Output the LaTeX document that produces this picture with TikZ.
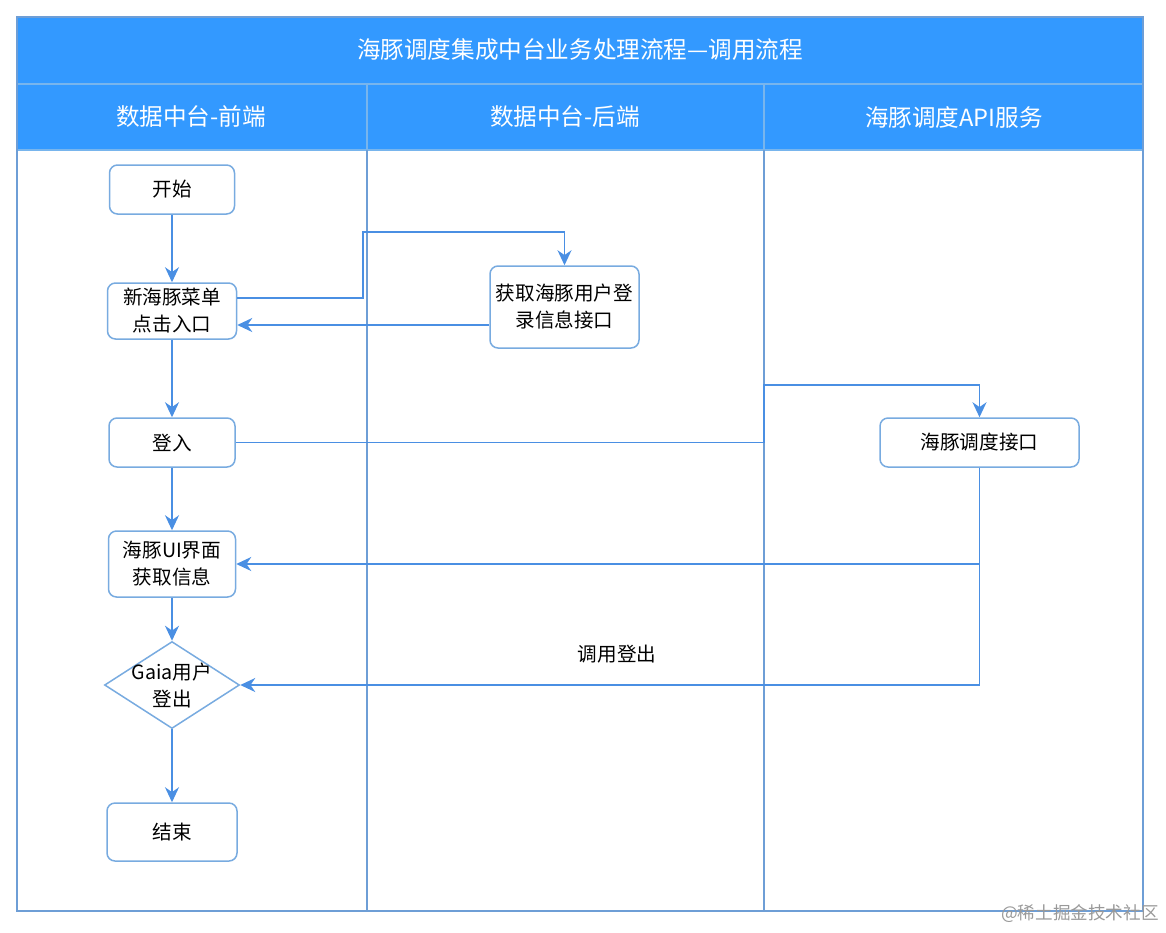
\documentclass[tikz,border=0pt]{standalone}
\usepackage{fontspec}
\setmainfont{Noto Sans CJK SC}
\usetikzlibrary{arrows.meta,shapes.geometric,positioning}
\definecolor{CheadA}{rgb}{0.2,0.6,1}
\definecolor{CheadL}{rgb}{0.47,0.71,0.93}
\definecolor{ClaneA}{rgb}{0.43,0.62,0.84}
\definecolor{CflowA}{rgb}{0.29,0.56,0.89}
\definecolor{CboxA}{rgb}{0.47,0.67,0.88}
\tikzset{
stepbox/.style={draw=CboxA, line width=0.75pt, rounded corners=4pt, fill=white, align=center, inner sep=0pt, font=\fontsize{9.8}{13.5}\selectfont},
decbox/.style={diamond, draw=CboxA, line width=0.75pt, fill=white, inner sep=0pt, minimum width=67.5pt, minimum height=43.5pt},
flow/.style={draw=CflowA, line width=0.8pt, -{Stealth[length=7.5pt,width=7pt,inset=2.4pt]}},
headtext/.style={text=white, font=\fontsize{11.8}{14}\selectfont},
}

\begin{document}
\begin{tikzpicture}[x=0.5pt,y=-0.5pt]
\useasboundingbox (0,0) rectangle (1166,932);

%% Lanes
\fill[CheadA] (17,17) rectangle (1143,150);
\draw[CheadL, line width=0.75pt] (17,84) -- (1143,84);
\draw[CheadL, line width=0.75pt] (17,150) -- (1143,150);
\draw[CheadL, line width=0.75pt] (367,84) -- (367,150);
\draw[CheadL, line width=0.75pt] (764,84) -- (764,150);
\draw[ClaneA, line width=0.75pt] (367,150) -- (367,911);
\draw[ClaneA, line width=0.75pt] (764,150) -- (764,911);
\draw[ClaneA, line width=1pt] (17,17) rectangle (1143,911);

\node[headtext] (title) at (580,50) {海豚调度集成中台业务处理流程—调用流程};
\node[headtext] (laneA) at (191,117) {数据中台-前端};
\node[headtext] (laneB) at (565,117) {数据中台-后端};
\node[headtext] (laneC) at (954,117) {海豚调度API服务};

%% Steps
\node[stepbox, minimum width=62.5pt, minimum height=24.5pt] (start) at (172,189.5) {开始};
\node[stepbox, minimum width=64.5pt, minimum height=28pt] (menu) at (172,311) {新海豚菜单\\点击入口};
\node[stepbox, minimum width=74.5pt, minimum height=41pt] (fetch) at (564.5,307) {获取海豚用户登\\录信息接口};
\node[stepbox, minimum width=63pt, minimum height=24.5pt] (login) at (172,442.5) {登入};
\node[stepbox, minimum width=99.5pt, minimum height=24.5pt] (api) at (979.5,442.5) {海豚调度接口};
\node[stepbox, minimum width=63.5pt, minimum height=33pt] (ui) at (172,564) {海豚UI界面\\获取信息};
\node[decbox, label={[align=center, font=\fontsize{9.8}{13.5}\selectfont]center:Gaia用户\\登出}] (gaia) at (172,685) {};
\node[stepbox, minimum width=65pt, minimum height=29pt] (end) at (172,832) {结束};

%% Flow
\draw[flow] (start) -- (menu);
\draw[flow] (menu) -- (login);
\draw[flow] (login) -- (ui);
\draw[flow] (ui) -- (gaia);
\draw[flow] (gaia) -- (end);

\draw[flow] ([yshift=6.5pt]menu.east) -| (363,232) -| (fetch.north);
\coordinate (menuin) at ([yshift=-7pt]menu.east);
\draw[flow] (fetch.west |- menuin) -- (menuin);

\draw[flow] (login.east) -| (764,385) -| (api.north);
\draw[flow] (api.south) |- (ui.east);
\draw[flow] (api.south) |- (gaia.east);
\node[font=\fontsize{9.8}{13.5}\selectfont] (logoutlbl) at (617,654) {调用登出};

%% Mark
\node[text=black!40, font=\fontsize{8.8}{10}\selectfont] (mark) at (1080,914) {@稀土掘金技术社区};
\end{tikzpicture}
\end{document}
